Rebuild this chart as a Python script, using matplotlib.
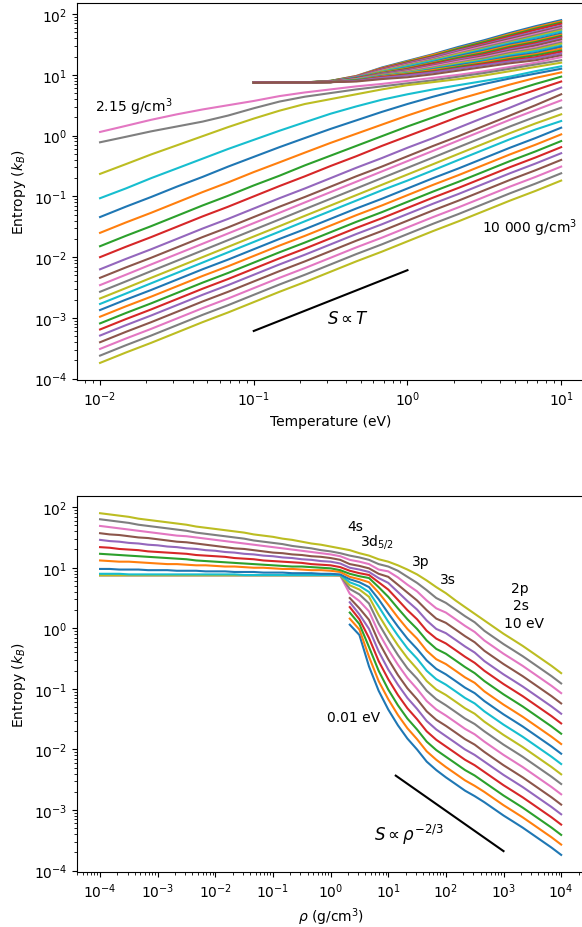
import numpy as np
import matplotlib
matplotlib.use('Agg')
import matplotlib.pyplot as plt

nan = np.nan

# temperature grid (eV), 6 points per decade
temperature = [0.01, 0.0147, 0.0215, 0.0316, 0.0464, 0.0681, 0.1, 0.147, 0.215,
               0.316, 0.464, 0.681, 1.0, 1.47, 2.15, 3.16, 4.64, 6.81, 10.0]

# density grid (g/cm3), 6 points per decade
density = [1e-4, 1.47e-4, 2.15e-4, 3.16e-4, 4.64e-4, 6.81e-4,
           1e-3, 1.47e-3, 2.15e-3, 3.16e-3, 4.64e-3, 6.81e-3,
           1e-2, 1.47e-2, 2.15e-2, 3.16e-2, 4.64e-2, 6.81e-2,
           0.1, 0.147, 0.215, 0.316, 0.464, 0.681,
           1.0, 1.47, 2.15, 3.16, 4.64, 6.81,
           10.0, 14.7, 21.5, 31.6, 46.4, 68.1,
           100.0, 147.0, 215.0, 316.0, 464.0, 681.0,
           1000.0, 1470.0, 2150.0, 3160.0, 4640.0, 6810.0, 10000.0]

# log10 of entropy (k_B), one row per density, one column per temperature
log_entropy = [
    [nan, nan, nan, nan, nan, nan, 0.875, 0.875, 0.875, 0.90, 0.98, 1.12, 1.23, 1.34, 1.46, 1.57, 1.69, 1.80, 1.90],
    [nan, nan, nan, nan, nan, nan, 0.875, 0.875, 0.875, 0.90, 0.98, 1.11, 1.22, 1.33, 1.44, 1.55, 1.67, 1.78, 1.88],
    [nan, nan, nan, nan, nan, nan, 0.875, 0.875, 0.875, 0.90, 0.97, 1.10, 1.21, 1.31, 1.43, 1.54, 1.65, 1.76, 1.86],
    [nan, nan, nan, nan, nan, nan, 0.875, 0.875, 0.875, 0.89, 0.97, 1.10, 1.20, 1.30, 1.41, 1.52, 1.63, 1.74, 1.84],
    [nan, nan, nan, nan, nan, nan, 0.875, 0.875, 0.875, 0.89, 0.97, 1.09, 1.19, 1.29, 1.40, 1.50, 1.61, 1.71, 1.81],
    [nan, nan, nan, nan, nan, nan, 0.875, 0.875, 0.875, 0.89, 0.96, 1.08, 1.18, 1.27, 1.38, 1.49, 1.59, 1.69, 1.79],
    [nan, nan, nan, nan, nan, nan, 0.875, 0.875, 0.875, 0.89, 0.96, 1.07, 1.17, 1.26, 1.37, 1.47, 1.57, 1.67, 1.77],
    [nan, nan, nan, nan, nan, nan, 0.875, 0.875, 0.875, 0.89, 0.96, 1.06, 1.16, 1.25, 1.35, 1.45, 1.55, 1.65, 1.75],
    [nan, nan, nan, nan, nan, nan, 0.875, 0.875, 0.875, 0.89, 0.95, 1.06, 1.15, 1.24, 1.34, 1.43, 1.53, 1.63, 1.73],
    [nan, nan, nan, nan, nan, nan, 0.875, 0.875, 0.875, 0.89, 0.95, 1.05, 1.14, 1.23, 1.32, 1.42, 1.52, 1.61, 1.71],
    [nan, nan, nan, nan, nan, nan, 0.875, 0.875, 0.875, 0.89, 0.95, 1.04, 1.12, 1.21, 1.31, 1.40, 1.50, 1.58, 1.68],
    [nan, nan, nan, nan, nan, nan, 0.875, 0.875, 0.875, 0.89, 0.94, 1.04, 1.11, 1.20, 1.29, 1.38, 1.48, 1.56, 1.66],
    [nan, nan, nan, nan, nan, nan, 0.875, 0.875, 0.875, 0.89, 0.94, 1.03, 1.10, 1.19, 1.28, 1.36, 1.46, 1.54, 1.64],
    [nan, nan, nan, nan, nan, nan, 0.875, 0.875, 0.875, 0.89, 0.94, 1.02, 1.09, 1.18, 1.26, 1.34, 1.44, 1.52, 1.62],
    [nan, nan, nan, nan, nan, nan, 0.875, 0.875, 0.875, 0.89, 0.93, 1.02, 1.08, 1.16, 1.25, 1.32, 1.42, 1.50, 1.60],
    [nan, nan, nan, nan, nan, nan, 0.875, 0.875, 0.875, 0.88, 0.93, 1.01, 1.07, 1.15, 1.23, 1.31, 1.40, 1.48, 1.58],
    [nan, nan, nan, nan, nan, nan, 0.875, 0.875, 0.875, 0.88, 0.93, 1.00, 1.06, 1.14, 1.22, 1.29, 1.38, 1.45, 1.55],
    [nan, nan, nan, nan, nan, nan, 0.875, 0.875, 0.875, 0.88, 0.92, 1.00, 1.05, 1.12, 1.20, 1.27, 1.36, 1.43, 1.53],
    [nan, nan, nan, nan, nan, nan, 0.875, 0.875, 0.875, 0.88, 0.92, 0.99, 1.04, 1.11, 1.19, 1.25, 1.34, 1.41, 1.51],
    [nan, nan, nan, nan, nan, nan, 0.875, 0.875, 0.875, 0.88, 0.92, 0.98, 1.03, 1.10, 1.17, 1.24, 1.32, 1.39, 1.48],
    [nan, nan, nan, nan, nan, nan, 0.875, 0.875, 0.875, 0.88, 0.91, 0.98, 1.02, 1.09, 1.16, 1.22, 1.30, 1.36, 1.46],
    [nan, nan, nan, nan, nan, nan, 0.875, 0.875, 0.875, 0.88, 0.91, 0.97, 1.02, 1.08, 1.14, 1.21, 1.28, 1.34, 1.43],
    [nan, nan, nan, nan, nan, nan, 0.875, 0.875, 0.875, 0.88, 0.91, 0.96, 1.01, 1.06, 1.13, 1.19, 1.26, 1.32, 1.40],
    [nan, nan, nan, nan, nan, nan, 0.875, 0.875, 0.875, 0.88, 0.90, 0.96, 1.00, 1.05, 1.11, 1.18, 1.24, 1.29, 1.38],
    [nan, nan, nan, nan, nan, nan, 0.875, 0.875, 0.875, 0.88, 0.90, 0.95, 0.99, 1.04, 1.10, 1.16, 1.22, 1.27, 1.35],
    [nan, nan, nan, nan, nan, nan, 0.870, 0.875, 0.875, 0.88, 0.89, 0.93, 0.96, 1.01, 1.07, 1.13, 1.19, 1.24, 1.32],
    [0.06, 0.16, 0.26, 0.35, 0.43, 0.50, 0.57, 0.65, 0.71, 0.76, 0.81, 0.85, 0.90, 0.95, 1.00, 1.06, 1.13, 1.20, 1.29],
    [-0.11, -0.02, 0.07, 0.15, 0.23, 0.33, 0.45, 0.56, 0.64, 0.70, 0.76, 0.81, 0.86, 0.91, 0.97, 1.03, 1.10, 1.17, 1.24],
    [-0.63, -0.47, -0.31, -0.16, -0.01, 0.14, 0.28, 0.41, 0.52, 0.60, 0.68, 0.76, 0.83, 0.88, 0.93, 0.99, 1.06, 1.13, 1.20],
    [-1.03, -0.87, -0.70, -0.54, -0.38, -0.22, -0.07, 0.08, 0.22, 0.36, 0.48, 0.59, 0.68, 0.76, 0.83, 0.90, 0.97, 1.06, 1.14],
    [-1.34, -1.17, -1.01, -0.84, -0.68, -0.51, -0.35, -0.19, -0.04, 0.11, 0.25, 0.39, 0.52, 0.64, 0.75, 0.85, 0.94, 1.02, 1.10],
    [-1.60, -1.43, -1.27, -1.10, -0.93, -0.77, -0.60, -0.44, -0.28, -0.12, 0.03, 0.18, 0.33, 0.47, 0.60, 0.72, 0.84, 0.95, 1.04],
    [-1.82, -1.65, -1.49, -1.32, -1.15, -0.99, -0.82, -0.66, -0.49, -0.33, -0.17, -0.01, 0.15, 0.30, 0.45, 0.59, 0.72, 0.85, 0.97],
    [-2.00, -1.83, -1.67, -1.50, -1.33, -1.17, -1.00, -0.83, -0.67, -0.50, -0.34, -0.17, -0.01, 0.15, 0.31, 0.46, 0.61, 0.75, 0.89],
    [-2.20, -2.03, -1.87, -1.70, -1.53, -1.37, -1.20, -1.03, -0.87, -0.70, -0.53, -0.37, -0.20, -0.04, 0.13, 0.30, 0.46, 0.63, 0.79],
    [-2.34, -2.17, -2.01, -1.84, -1.67, -1.51, -1.34, -1.17, -1.01, -0.84, -0.67, -0.51, -0.34, -0.17, -0.01, 0.16, 0.33, 0.50, 0.68],
    [-2.46, -2.29, -2.12, -1.95, -1.78, -1.61, -1.44, -1.27, -1.10, -0.93, -0.76, -0.59, -0.42, -0.25, -0.08, 0.09, 0.26, 0.42, 0.58],
    [-2.57, -2.40, -2.23, -2.06, -1.89, -1.72, -1.55, -1.38, -1.21, -1.04, -0.87, -0.70, -0.53, -0.36, -0.19, -0.02, 0.15, 0.31, 0.46],
    [-2.68, -2.51, -2.34, -2.17, -2.00, -1.83, -1.66, -1.49, -1.32, -1.15, -0.98, -0.81, -0.64, -0.47, -0.30, -0.13, 0.04, 0.20, 0.35],
    [-2.77, -2.60, -2.43, -2.26, -2.09, -1.92, -1.75, -1.58, -1.41, -1.24, -1.07, -0.90, -0.74, -0.57, -0.40, -0.23, -0.06, 0.10, 0.24],
    [-2.87, -2.70, -2.54, -2.37, -2.20, -2.04, -1.87, -1.70, -1.54, -1.37, -1.20, -1.04, -0.87, -0.70, -0.54, -0.37, -0.20, -0.04, 0.13],
    [-2.98, -2.81, -2.65, -2.48, -2.31, -2.15, -1.98, -1.81, -1.65, -1.48, -1.31, -1.15, -0.98, -0.81, -0.65, -0.48, -0.31, -0.15, 0.02],
    [-3.09, -2.92, -2.76, -2.59, -2.42, -2.26, -2.09, -1.92, -1.76, -1.59, -1.42, -1.26, -1.09, -0.92, -0.76, -0.59, -0.42, -0.26, -0.09],
    [-3.19, -3.02, -2.86, -2.69, -2.52, -2.36, -2.19, -2.02, -1.86, -1.69, -1.52, -1.36, -1.19, -1.02, -0.86, -0.69, -0.52, -0.36, -0.19],
    [-3.29, -3.12, -2.96, -2.79, -2.62, -2.46, -2.29, -2.12, -1.96, -1.79, -1.62, -1.46, -1.29, -1.12, -0.96, -0.79, -0.62, -0.46, -0.29],
    [-3.40, -3.23, -3.07, -2.90, -2.73, -2.57, -2.40, -2.23, -2.07, -1.90, -1.73, -1.57, -1.40, -1.23, -1.07, -0.90, -0.73, -0.57, -0.40],
    [-3.51, -3.34, -3.18, -3.01, -2.84, -2.68, -2.51, -2.34, -2.18, -2.01, -1.84, -1.68, -1.51, -1.34, -1.18, -1.01, -0.84, -0.68, -0.51],
    [-3.62, -3.45, -3.29, -3.12, -2.95, -2.79, -2.62, -2.45, -2.29, -2.12, -1.95, -1.79, -1.62, -1.45, -1.29, -1.12, -0.95, -0.79, -0.62],
    [-3.74, -3.57, -3.41, -3.24, -3.07, -2.91, -2.74, -2.57, -2.41, -2.24, -2.07, -1.91, -1.74, -1.57, -1.41, -1.24, -1.07, -0.91, -0.74],
]

# guide lines
guide_T = [0.1, 1.0]
guide_S_T = [6.1e-4, 6.1e-3]
guide_rho = [13.5, 1000.0]
guide_S_rho = [3.7e-3, 2.1e-4]

S = 10.0 ** np.array(log_entropy)
T = np.array(temperature)
rho = np.array(density)

fig = plt.figure(figsize=(5.82, 9.28), dpi=100)
ax1 = fig.add_axes([0.1323, 0.5894, 0.8715, 0.4063])
ax2 = fig.add_axes([0.1323, 0.0593, 0.8715, 0.405])

# top: entropy vs temperature, one line per density
for i in range(len(density)):
    ax1.plot(T, S[i])
ax1.plot(guide_T, guide_S_T, color='black')
ax1.set_xscale('log')
ax1.set_yscale('log')
ax1.set_xlabel('Temperature (eV)')
ax1.set_ylabel('Entropy ($k_B$)')
ax1.text(0.0093, 2.55, '2.15 g/cm$^3$', va='baseline')
ax1.text(3.05, 0.026, '10 000 g/cm$^3$', va='baseline')
ax1.text(0.30, 8.3e-4, r'$S \propto T$', fontsize=12, va='baseline')

# bottom: entropy vs density, one line per temperature
for k in range(len(temperature)):
    ax2.plot(rho, S[:, k])
ax2.plot(guide_rho, guide_S_rho, color='black')
ax2.set_xscale('log')
ax2.set_yscale('log')
ax2.set_xlabel(r'$\rho$ (g/cm$^3$)')
ax2.set_ylabel('Entropy ($k_B$)')
ax2.text(1.97, 42, '4s', va='baseline')
ax2.text(3.19, 23.8, '3d$_{5/2}$', va='baseline')
ax2.text(25.5, 11.2, '3p', va='baseline')
ax2.text(78, 5.7, '3s', va='baseline')
ax2.text(1334, 4.0, '2p', va='baseline')
ax2.text(1445, 2.05, '2s', va='baseline')
ax2.text(1000, 1.04, '10 eV', va='baseline')
ax2.text(0.85, 0.030, '0.01 eV', va='baseline')
ax2.text(5.6, 3.2e-4, r'$S \propto \rho^{-2/3}$', fontsize=12, va='baseline')

fig.savefig('out.png', dpi=100)
